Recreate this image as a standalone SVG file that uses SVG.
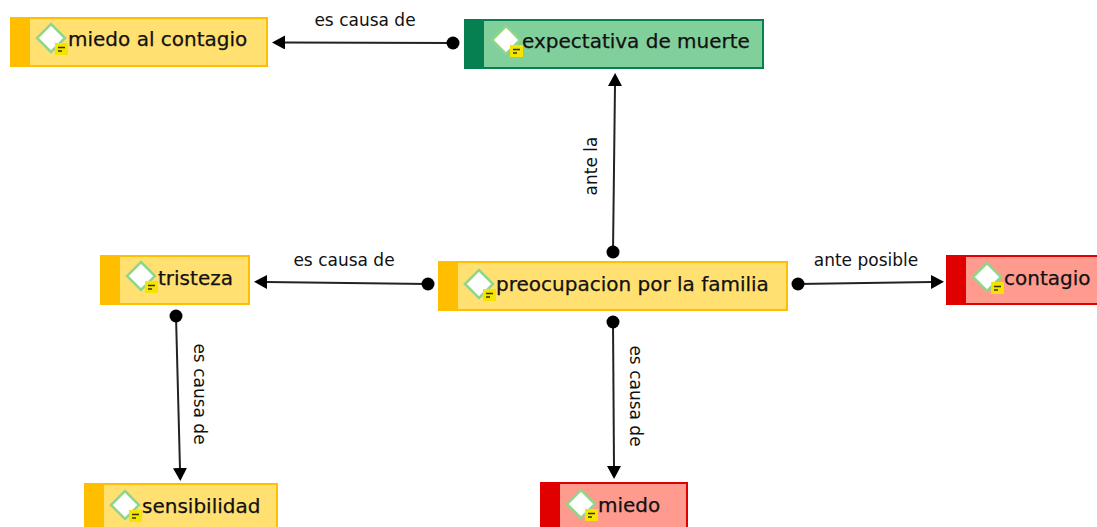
<svg xmlns="http://www.w3.org/2000/svg" width="1097" height="527" viewBox="0 0 1097 527">
<style>
.box{stroke-width:2}
.y .box{fill:#ffe071;stroke:#ffbf00}.y .bar{fill:#ffbf00}
.g .box{fill:#81cf9b;stroke:#068050}.g .bar{fill:#068050}
.r .box{fill:#ff9a8f;stroke:#e00000}.r .bar{fill:#e00000}
.d{fill:#fff;stroke:#8fd68a;stroke-width:2.5}
.n{fill:#f5e300}
.l{stroke:#3a3300;stroke-width:1.4}
text{font-family:"DejaVu Sans",sans-serif;fill:#111}
.t{font-size:20px;stroke:#111;stroke-width:.25}
.c{font-size:17px;text-anchor:middle}
.e{stroke:#222;stroke-width:2;fill:none}
</style>
<defs>
<g id="ic"><path class="d" d="M0,-14L14,0L0,14L-14,0Z"/><rect class="n" x="4" y="5" width="13" height="12"/><path class="l" d="M7,9.500H14M7,13H11"/></g>
<marker id="a" markerWidth="13" markerHeight="14" refX="1" refY="7" orient="auto" markerUnits="userSpaceOnUse"><path d="M0,7L13,0V14Z" fill="#000" transform="rotate(180 6.500 7)"/></marker>
<marker id="o" markerWidth="14" markerHeight="14" refX="7" refY="7" markerUnits="userSpaceOnUse"><circle cx="7" cy="7" r="6.500" fill="#000"/></marker>
</defs>
<g id="connectors">
<path class="e" d="M453,43L284,42.500" marker-start="url(#o)" marker-end="url(#a)"/>
<path class="e" d="M613,252L615,85" marker-start="url(#o)" marker-end="url(#a)"/>
<path class="e" d="M428,284L266,282" marker-start="url(#o)" marker-end="url(#a)"/>
<path class="e" d="M798,284L932,282" marker-start="url(#o)" marker-end="url(#a)"/>
<path class="e" d="M613,322L614,467" marker-start="url(#o)" marker-end="url(#a)"/>
<path class="e" d="M176,316L180,469" marker-start="url(#o)" marker-end="url(#a)"/>
<text class="c" x="365" y="26">es causa de</text>
<text class="c" transform="translate(597,166) rotate(-90)">ante la</text>
<text class="c" x="344" y="266">es causa de</text>
<text class="c" x="866" y="266">ante posible</text>
<text class="c" transform="translate(630,396) rotate(90)">es causa de</text>
<text class="c" transform="translate(194,394) rotate(90)">es causa de</text>
</g>
<g id="n1" class="y"><rect class="box" x="11" y="18" width="256" height="48"/><rect class="bar" x="10" y="17" width="20" height="50"/><use href="#ic" x="51" y="38"/><text class="t" x="68" y="46">miedo al contagio</text></g>
<g id="n2" class="g"><rect class="box" x="465" y="20" width="298" height="48"/><rect class="bar" x="464" y="19" width="20" height="50"/><use href="#ic" x="506" y="40"/><text class="t" x="522" y="48">expectativa de muerte</text></g>
<g id="n3" class="y"><rect class="box" x="439" y="262" width="348" height="48"/><rect class="bar" x="438" y="261" width="20" height="50"/><use href="#ic" x="479" y="284"/><text class="t" x="496" y="291">preocupacion por la familia</text></g>
<g id="n4" class="y"><rect class="box" x="101" y="256" width="148" height="48"/><rect class="bar" x="100" y="255" width="20" height="50"/><use href="#ic" x="141" y="276"/><text class="t" x="158" y="285">tristeza</text></g>
<g id="n5" class="r"><rect class="box" x="947" y="256" width="152" height="48"/><rect class="bar" x="946" y="255" width="20" height="50"/><use href="#ic" x="987" y="277"/><text class="t" x="1004" y="285">contagio</text></g>
<g id="n6" class="y"><rect class="box" x="85" y="484" width="192" height="48"/><rect class="bar" x="84" y="483" width="20" height="50"/><use href="#ic" x="125" y="505"/><text class="t" x="142" y="513">sensibilidad</text></g>
<g id="n7" class="r"><rect class="box" x="541" y="483" width="146" height="48"/><rect class="bar" x="540" y="482" width="20" height="50"/><use href="#ic" x="581" y="504"/><text class="t" x="598" y="512">miedo</text></g>
</svg>
